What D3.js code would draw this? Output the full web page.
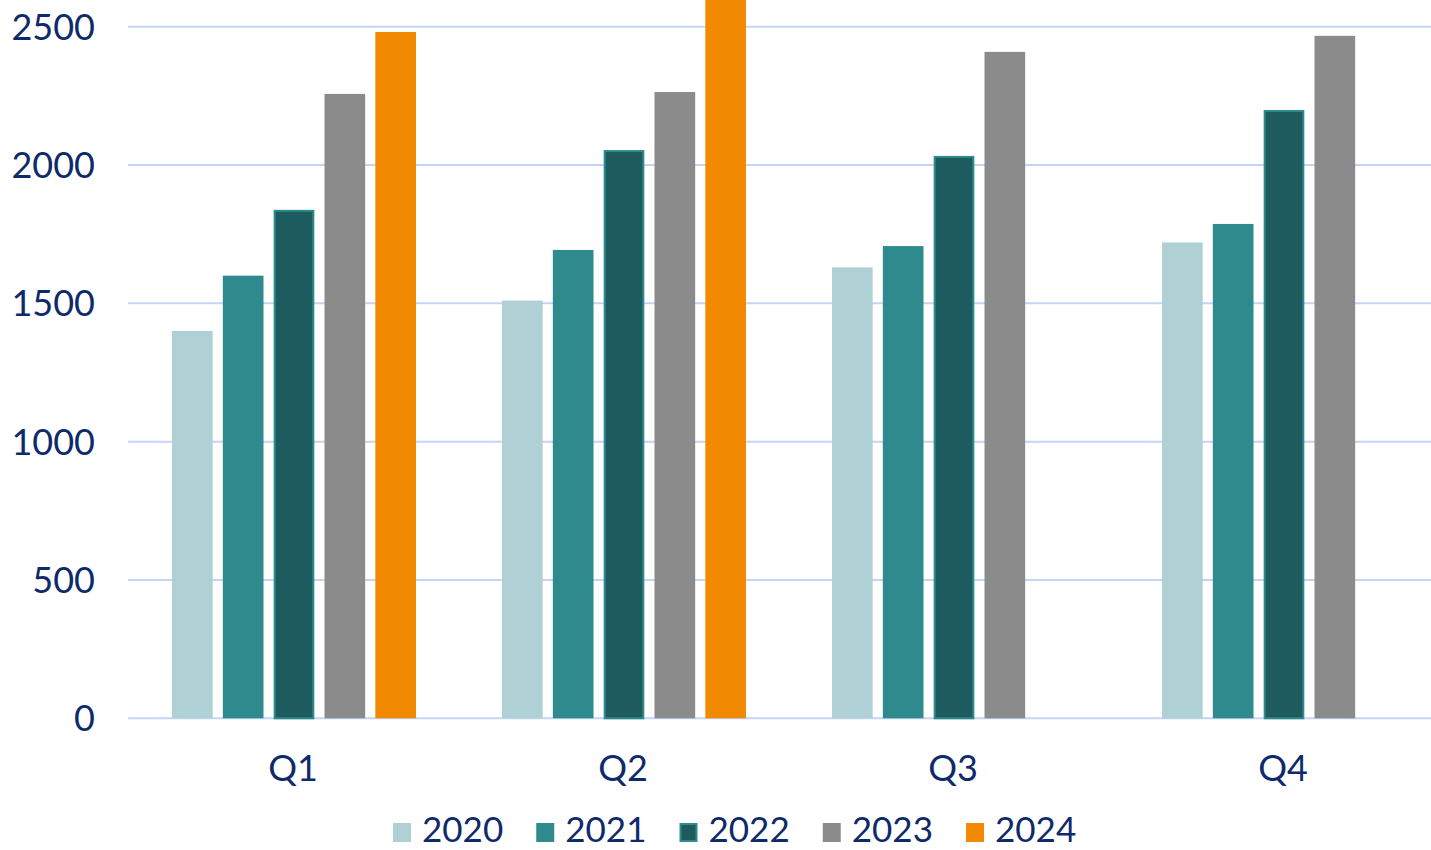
<!DOCTYPE html>
<html>
<head>
<meta charset="utf-8">
<script src="https://cdn.jsdelivr.net/npm/d3@7"></script>
<style>
  html, body { margin: 0; padding: 0; background: #ffffff; overflow: hidden; }
  svg { display: block; }
</style>
</head>
<body>
<svg id="chart" width="1431" height="850"></svg>
<script>
// ---- data ----
const quarters = ["Q1", "Q2", "Q3", "Q4"];
const years = ["2020", "2021", "2022", "2023", "2024"];
const values2020 = [1400, 1510, 1630, 1720];
const values2021 = [1600, 1693, 1707, 1787];
const values2022 = [1838, 2054, 2033, 2199];
const values2023 = [2257, 2264, 2409, 2467];
const values2024 = [2481, 2650, null, null];
const yTicks = [0, 500, 1000, 1500, 2000, 2500];

const seriesValues = [values2020, values2021, values2022, values2023, values2024];
const colors = ["#afd0d4", "#2e8a8c", "#1e5b5e", "#8a8b8a", "#f18a00"];
const strokes = [null, null, "#2e8a8c", null, null];

const textColor = "#0f2a6b";
const gridColor = "#c3d4f6";
const fontFamily = "Lato, 'Noto Sans', sans-serif";

const svg = d3.select("#chart");

const x0 = d3.scaleBand().domain(quarters).range([128, 1448]).padding(0);
const x1 = d3.scaleBand().domain(years).range([44, 288]).paddingInner(0.2).paddingOuter(0);
const y = d3.scaleLinear().domain([0, 2500]).range([718.3, 26.7]);

// gridlines
svg.append("g").selectAll("line").data(yTicks).join("line")
  .attr("x1", 128).attr("x2", 1448)
  .attr("y1", d => y(d)).attr("y2", d => y(d))
  .attr("stroke", gridColor).attr("stroke-width", 2);

// y tick labels
svg.append("g").selectAll("text").data(yTicks).join("text")
  .attr("x", 95).attr("y", d => y(d))
  .attr("dy", "0.36em")
  .attr("text-anchor", "end")
  .attr("fill", textColor)
  .style("font-family", fontFamily)
  .style("font-size", "36px")
  .text(d => d);

// bars
const barData = [];
years.forEach((yr, si) => {
  quarters.forEach((q, qi) => {
    const v = seriesValues[si][qi];
    if (v != null) barData.push({ q, yr, v, si });
  });
});

svg.append("g").selectAll("rect").data(barData).join("rect")
  .attr("x", d => x0(d.q) + x1(d.yr) + (strokes[d.si] ? 1 : 0))
  .attr("y", d => y(d.v) + (strokes[d.si] ? 1 : 0))
  .attr("width", d => x1.bandwidth() - (strokes[d.si] ? 2 : 0))
  .attr("height", d => y(0) - y(d.v) - (strokes[d.si] ? 1 : 0))
  .attr("fill", d => colors[d.si])
  .attr("stroke", d => strokes[d.si] || "none")
  .attr("stroke-width", d => strokes[d.si] ? 2 : 0);

// x labels
svg.append("g").selectAll("text").data(quarters).join("text")
  .attr("x", d => x0(d) + x0.bandwidth() / 2)
  .attr("y", 768)
  .attr("dy", "0.36em")
  .attr("text-anchor", "middle")
  .attr("fill", textColor)
  .style("font-family", fontFamily)
  .style("font-size", "36px")
  .text(d => d);

// legend
const legendX = d3.scalePoint().domain(years).range([393, 966]);
const lg = svg.append("g").selectAll("g").data(years).join("g")
  .attr("transform", d => `translate(${legendX(d)},829)`);
lg.append("rect")
  .attr("x", (d, i) => strokes[i] ? 1 : 0)
  .attr("y", (d, i) => -6 + (strokes[i] ? 1 : 0))
  .attr("width", (d, i) => 18 - (strokes[i] ? 2 : 0))
  .attr("height", (d, i) => 19 - (strokes[i] ? 2 : 0))
  .attr("fill", (d, i) => colors[i])
  .attr("stroke", (d, i) => strokes[i] || "none")
  .attr("stroke-width", (d, i) => strokes[i] ? 2 : 0);
lg.append("text")
  .attr("x", 29).attr("y", 0)
  .attr("dy", "0.36em")
  .attr("fill", textColor)
  .style("font-family", fontFamily)
  .style("font-size", "35px")
  .text(d => d);
</script>
</body>
</html>
